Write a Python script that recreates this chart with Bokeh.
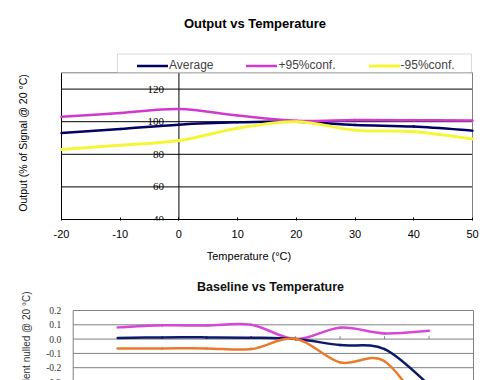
import numpy as np
from bokeh.plotting import figure
from bokeh.models import (FixedTicker, Legend, LegendItem, Label, LabelSet, BoxAnnotation,
                          ColumnDataSource, Range1d)
from bokeh.layouts import column
from bokeh.embed import file_html
from bokeh.resources import INLINE

# ---------------- data: top chart ----------------
temp_top = [-20, -10, 0, 10, 20, 30, 40, 50]
average = [93.0, 95.5, 98.2, 99.6, 100.0, 98.0, 97.0, 94.5]
plus95 = [103.0, 105.3, 107.8, 103.8, 100.6, 101.0, 100.9, 100.7]
minus95 = [83.0, 85.6, 88.4, 96.0, 100.0, 94.8, 93.8, 89.4]
top_xticks = [-20, -10, 0, 10, 20, 30, 40, 50]
top_xlabels = ["-20", "-10", "0", "10", "20", "30", "40", "50"]
top_yticks = [40, 60, 80, 100, 120]
top_ylabels = ["40", "60", "80", "100", "120"]
top_xmin, top_xmax = -20, 50
top_ymin, top_ymax = 40, 130

# ---------------- data: bottom chart ----------------
temp_bot = [-20, -10, 0, 10, 20, 30, 40, 50]
base_avg = [0.007, 0.012, 0.012, 0.010, 0.0, -0.042, -0.070, -0.32]
base_plus = [0.082, 0.096, 0.095, 0.100, 0.0, 0.080, 0.040, 0.058]
base_minus = [-0.065, -0.065, -0.065, -0.070, 0.003, -0.163, -0.155, -0.55]
bot_xticks = [-10, 0, 10, 20, 30, 40, 50]
bot_yticks = [-0.3, -0.2, -0.1, 0.0, 0.1, 0.2]
bot_ylabels = ["-0.3", "-0.2", "-0.1", "0.0", "0.1", "0.2"]
bot_xmin, bot_xmax = -30, 60
bot_ymax = 0.2

FONT = "Liberation Sans"

# ---------------- layout (pixels -> data) ----------------
# top chart: plot area x 61..472 px, y=40 at 219 px, 1.63 px per %
TPX = (472 - 61) / (top_xmax - top_xmin)
TPY = 1.63
T_X0 = top_xmin - 61 / TPX
T_X1 = top_xmax + (497 - 472) / TPX
T_Y0 = top_ymin - 1 / TPY
T_Y1 = top_ymin + 219 / TPY


def tx(px):
    return T_X0 + px / TPX


def ty(py):
    return top_ymin + (219 - py) / TPY


# bottom chart (figure starts at page y = 265): plot area x 72.7..473, 0.2 at 310 px
BPX = (473 - 72.7) / (bot_xmax - bot_xmin)
BPY = 143.0
B_X0 = bot_xmin - 72.7 / BPX
B_X1 = bot_xmax + (497 - 473) / BPX
B_Y1 = bot_ymax + (310 - 265) / BPY
B_Y0 = bot_ymax - (380 - 310) / BPY


def bx(px):
    return B_X0 + px / BPX


def by(py):
    return bot_ymax + (310 - py) / BPY


def smooth(xs, ys):
    """Cubic Bezier segments (Catmull-Rom) through the given points."""
    n = len(xs)
    d = dict(x0=[], y0=[], x1=[], y1=[], cx0=[], cy0=[], cx1=[], cy1=[])
    for i in range(n - 1):
        pm, pp = max(i - 1, 0), min(i + 2, n - 1)
        d["x0"].append(xs[i]); d["y0"].append(ys[i])
        d["x1"].append(xs[i + 1]); d["y1"].append(ys[i + 1])
        d["cx0"].append(xs[i] + (xs[i + 1] - xs[pm]) / 6.0)
        d["cy0"].append(ys[i] + (ys[i + 1] - ys[pm]) / 6.0)
        d["cx1"].append(xs[i + 1] - (xs[pp] - xs[i]) / 6.0)
        d["cy1"].append(ys[i + 1] - (ys[pp] - ys[i]) / 6.0)
    return ColumnDataSource(d)


def curve(p, xs, ys, color, width):
    return p.bezier(x0="x0", y0="y0", x1="x1", y1="y1", cx0="cx0", cy0="cy0",
                    cx1="cx1", cy1="cy1", source=smooth(xs, ys),
                    line_color=color, line_width=width, line_cap="round")


# ================= top chart =================
p1 = figure(width=497, height=265, x_range=Range1d(T_X0, T_X1), y_range=Range1d(T_Y0, T_Y1),
            output_backend="svg", toolbar_location=None, y_axis_location=None,
            min_border_left=0, min_border_right=0, min_border_top=0, min_border_bottom=45)
p1.outline_line_color = None
p1.background_fill_color = "white"
p1.border_fill_color = "white"
p1.grid.visible = False

p1.xaxis.ticker = FixedTicker(ticks=top_xticks)
p1.xaxis.major_label_overrides = dict(zip(top_xticks, top_xlabels))
p1.xaxis.axis_line_color = None
p1.xaxis.major_tick_line_color = "black"
p1.xaxis.major_tick_in = 3
p1.xaxis.major_tick_out = 0
p1.xaxis.minor_tick_line_color = None
p1.xaxis.major_label_standoff = 9
p1.xaxis.major_label_text_font = FONT
p1.xaxis.major_label_text_font_size = "11px"
p1.xaxis.major_label_text_color = "black"
p1.xaxis.axis_label = "Temperature (°C)"
p1.xaxis.axis_label_standoff = 9
p1.xaxis.axis_label_text_font = FONT
p1.xaxis.axis_label_text_font_size = "11px"
p1.xaxis.axis_label_text_font_style = "normal"
p1.xaxis.axis_label_text_color = "black"

# horizontal gridlines (black) across the plot area
n_gy = len(top_yticks)
p1.segment(x0=[top_xmin] * n_gy, y0=top_yticks, x1=[top_xmax] * n_gy, y1=top_yticks,
           line_color="black", line_width=1)
# plot-area border: left black, top / right grey; y axis crossing at x = 0
p1.segment(x0=[top_xmin, 0], y0=[top_ymin, top_ymin], x1=[top_xmin, 0], y1=[top_ymax, top_ymax],
           line_color="black", line_width=1)
p1.segment(x0=[top_xmin, top_xmax], y0=[top_ymax, top_ymin], x1=[top_xmax, top_xmax],
           y1=[top_ymax, top_ymax], line_color="#808080", line_width=1)
p1.add_layout(LabelSet(x="x", y="y", text="t", x_offset=-15,
                       source=ColumnDataSource(dict(x=[0] * n_gy, y=top_yticks, t=top_ylabels)),
                       text_align="right", text_baseline="middle", text_font=FONT,
                       text_font_size="11px", text_color="black"))

r_avg = curve(p1, temp_top, average, "#000066", 2.5)
r_plus = curve(p1, temp_top, plus95, "#d038d0", 2.5)
r_minus = curve(p1, temp_top, minus95, "#f5f53a", 3)

# legend box sitting on the top of the plot area
p1.add_layout(BoxAnnotation(left=tx(117), right=tx(471), bottom=ty(72), top=ty(53.5),
                            fill_color="white", fill_alpha=1,
                            line_color="#808080", line_width=1))
legend = Legend(items=[LegendItem(label="Average", renderers=[r_avg]),
                       LegendItem(label="+95%conf.", renderers=[r_plus]),
                       LegendItem(label="-95%conf.", renderers=[r_minus])],
                orientation="horizontal", location=(137, 220 - 72),
                border_line_color=None, background_fill_alpha=0,
                padding=2, spacing=33, glyph_width=31, glyph_height=13,
                label_standoff=1, label_text_font=FONT, label_text_font_size="12px",
                label_height=13, margin=0)
p1.add_layout(legend, "center")

p1.add_layout(Label(x=tx(254.5), y=ty(23), text="Output vs Temperature", text_align="center",
                    text_baseline="middle", text_font=FONT, text_font_size="13px",
                    text_font_style="bold", text_color="black"))
p1.add_layout(Label(x=tx(22.5), y=ty(142.5), text="Output (% of Signal @ 20 °C)", angle=np.pi / 2,
                    text_align="center", text_baseline="middle", text_font=FONT,
                    text_font_size="10.5px", text_color="black"))

# ================= bottom chart =================
p2 = figure(width=497, height=115, x_range=Range1d(B_X0, B_X1), y_range=Range1d(B_Y0, B_Y1),
            output_backend="svg", toolbar_location=None, x_axis_location=None, y_axis_location=None,
            min_border_left=0, min_border_right=0, min_border_top=0, min_border_bottom=0)
p2.outline_line_color = None
p2.grid.visible = False
p2.background_fill_color = "white"
p2.border_fill_color = "white"

n_by = len(bot_yticks)
p2.segment(x0=[bot_xmin] * n_by, y0=bot_yticks, x1=[bot_xmax] * n_by, y1=bot_yticks,
           line_color="#808080", line_width=1)
p2.segment(x0=[bot_xmin, bot_xmax], y0=[bot_ymax, bot_ymax], x1=[bot_xmin, bot_xmax],
           y1=[min(bot_yticks), min(bot_yticks)], line_color="#808080", line_width=1)
p2.add_layout(LabelSet(x="x", y="y", text="t", x_offset=-12,
                       source=ColumnDataSource(dict(x=[bot_xmin] * n_by, y=bot_yticks, t=bot_ylabels)),
                       text_align="right", text_baseline="middle", text_font="Liberation Mono",
                       text_font_size="9.5px", text_color="#333333"))

# small tick marks on the zero line
n_bx = len(bot_xticks)
p2.segment(x0=bot_xticks, y0=[0.0] * n_bx, x1=bot_xticks, y1=[0.02] * n_bx,
           line_color="#808080", line_width=1)

curve(p2, temp_bot, base_plus, "#d846d8", 2.5)
curve(p2, temp_bot, base_avg, "#0d1a6b", 2.5)
curve(p2, temp_bot, base_minus, "#ea7a2c", 2.5)

p2.add_layout(Label(x=bx(270), y=by(286), text="Baseline vs Temperature", text_align="center",
                    text_baseline="middle", text_font=FONT, text_font_size="12.5px",
                    text_font_style="bold", text_color="#111111"))
p2.add_layout(Label(x=bx(25.5), y=by(291), text="Baseline (ppm equivalent nulled @ 20 °C)",
                    angle=np.pi / 2, text_align="right", text_baseline="middle",
                    text_font=FONT, text_font_size="10px", text_color="#333333"))

layout = column(p1, p2, spacing=0)
open("out.html", "w").write(file_html(layout, INLINE))
